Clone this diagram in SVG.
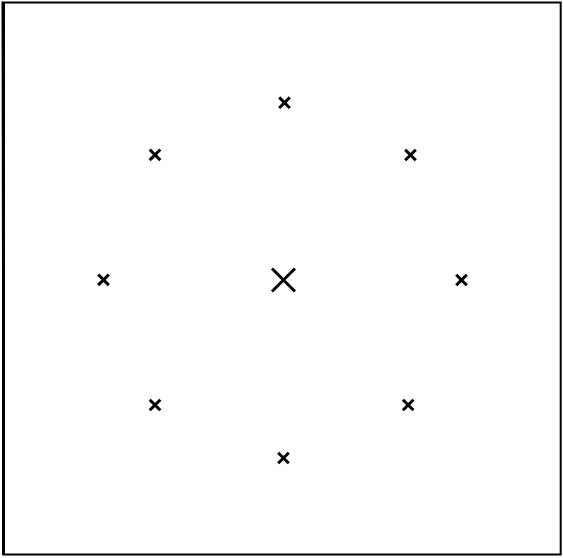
<svg xmlns="http://www.w3.org/2000/svg" width="563" height="558" viewBox="0 0 563 558">
<defs>
<style>
.s{stroke:#000;stroke-width:3;fill:none;stroke-linecap:butt}
.b{stroke:#000;stroke-width:2;fill:none}
</style>
<path id="x" class="s" d="M-5.3,-5.3L5.3,5.3M5.3,-5.3L-5.3,5.3"/>
</defs>
<rect width="563" height="558" fill="#fff"/>
<path class="b" d="M2.5,2.5H560.7V554.5H3.5Z"/>
<line x1="3.5" y1="2" x2="3.5" y2="555" stroke="#000" stroke-width="3"/>
<path class="s" d="M272,268.5L295,291.5M295,268.5L272,291.5" stroke-width="2"/>
<use href="#x" x="284.5" y="102.7"/>
<use href="#x" x="155" y="154.8"/>
<use href="#x" x="410.5" y="155"/>
<use href="#x" x="103.5" y="279.8"/>
<use href="#x" x="461.5" y="280"/>
<use href="#x" x="155" y="405"/>
<use href="#x" x="408.2" y="405"/>
<use href="#x" x="283.5" y="458"/>
</svg>
